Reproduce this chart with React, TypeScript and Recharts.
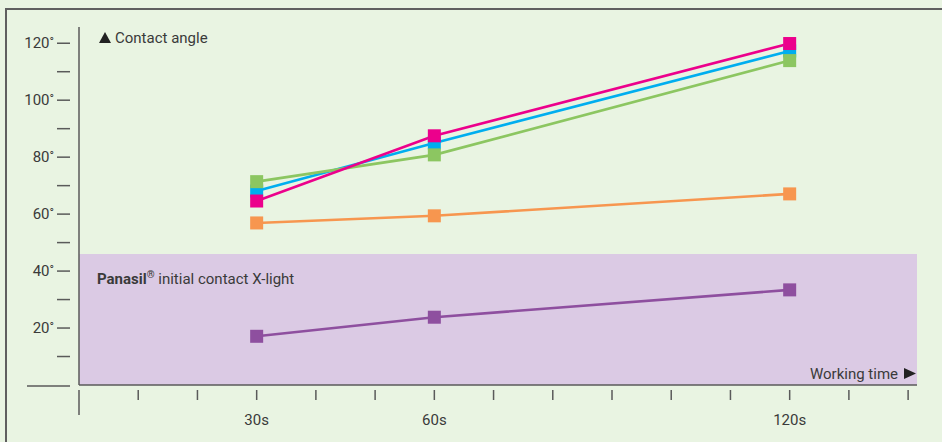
import React from 'react'
import { LineChart, Line, XAxis, YAxis, ReferenceArea } from 'recharts'

// working time in seconds
const times = [30, 60, 120]

// contact angle in degrees, one array per material
const pinkValues = [64.6, 87.5, 119.9]
const blueValues = [68.1, 85.0, 117.3]
const greenValues = [71.4, 80.8, 113.9]
const orangeValues = [56.9, 59.4, 67.1]
const purpleValues = [17.1, 23.8, 33.4]

const xTicks = [0, 10, 20, 30, 40, 50, 60, 70, 80, 90, 100, 110, 120, 130, 140]
const xLabels = [30, 60, 120]
const yTicks = [0, 10, 20, 30, 40, 50, 60, 70, 80, 90, 100, 110, 120]
const yLabels = [20, 40, 60, 80, 100, 120]
const bandTop = 46

const FONT = 'Roboto, "Liberation Sans", sans-serif'
const TEXT = '#3a3a3a'
const AXIS = '#5a5a5a'

const data = times.map((t, i) => ({
  t,
  pink: pinkValues[i],
  blue: blueValues[i],
  green: greenValues[i],
  orange: orangeValues[i],
  purple: purpleValues[i],
}))

const series = [
  { key: 'purple', color: '#8E4F9F' },
  { key: 'orange', color: '#F7964F' },
  { key: 'blue', color: '#00AEEF' },
  { key: 'green', color: '#8CC661' },
  { key: 'pink', color: '#EC008C' },
]

const YTick = (props: any) => {
  const { x, y, payload } = props
  const v = payload.value
  if (v === 0) {
    return <line x1={x - 52} x2={x - 9} y1={y + 1} y2={y + 1} stroke={AXIS} strokeWidth={1.5} />
  }
  return (
    <g>
      <line x1={x - 22} x2={x - 9} y1={y} y2={y} stroke={AXIS} strokeWidth={1.5} />
      {yLabels.includes(v) && (
        <text x={x - 25} y={y + 5} textAnchor="end" fontFamily={FONT} fontSize={15} fill={TEXT}>
          {v}
          <tspan dy={-2} fontSize={12}>°</tspan>
        </text>
      )}
    </g>
  )
}

const XTick = (props: any) => {
  const { x, y, payload } = props
  const v = payload.value
  return (
    <g>
      <line x1={x} x2={x} y1={y + 5} y2={v === 0 ? y + 30 : y + 15} stroke={AXIS} strokeWidth={1.5} />
      {xLabels.includes(v) && (
        <text x={x} y={y + 40} textAnchor="middle" fontFamily={FONT} fontSize={15} fill={TEXT}>
          {v}s
        </text>
      )}
    </g>
  )
}

const ContactAngleLabel = (props: any) => {
  const { x, y, width } = props.viewBox
  const lx = x + width + 20
  const ly = y + 16
  return (
    <g>
      <polygon points={`${lx},${ly} ${lx + 12},${ly} ${lx + 6},${ly - 11}`} fill="#222" />
      <text x={lx + 16} y={ly} fontFamily={FONT} fontSize={15} fill={TEXT}>
        Contact angle
      </text>
    </g>
  )
}

const WorkingTimeLabel = (props: any) => {
  const { x, y, width } = props.viewBox
  const rx = x + width - 1
  const ly = y - 6
  return (
    <g>
      <polygon points={`${rx - 12},${ly} ${rx - 12},${ly - 11} ${rx},${ly - 5.5}`} fill="#222" />
      <text x={rx - 18} y={ly} textAnchor="end" fontFamily={FONT} fontSize={15} fill={TEXT}>
        Working time
      </text>
    </g>
  )
}

const BandLabel = (props: any) => {
  const { x, y } = props.viewBox
  return (
    <text x={x + 18} y={y + 30} fontFamily={FONT} fontSize={15} fill={TEXT}>
      <tspan fontWeight="bold">Panasil</tspan>
      <tspan dy={-6} fontSize={10} fontWeight="bold">®</tspan>
      <tspan dy={6}> initial contact X-light</tspan>
    </text>
  )
}

const squareDot = (color: string) => (p: any) =>
  <rect key={p.index} x={p.cx - 6.5} y={p.cy - 6.5} width={13} height={13} fill={color} />

export default function App() {
  return (
    <div style={{ position: 'absolute', left: 0, top: 0, width: 942, height: 442, background: '#E9F4E2', overflow: 'hidden' }}>
      <div
        style={{
          position: 'absolute',
          left: 5,
          top: 8,
          width: 960,
          height: 460,
          borderTop: '2px solid #5f5f5f',
          borderLeft: '2px solid #5f5f5f',
        }}
      />
      <div style={{ position: 'absolute', left: 0, top: 0 }}>
        <LineChart width={942} height={442} data={data} margin={{ top: 27, right: 25, bottom: 0, left: 0 }}>
          <XAxis
            dataKey="t"
            type="number"
            domain={[0, 141.5]}
            ticks={xTicks}
            interval={0}
            height={57}
            tickSize={0}
            tickMargin={0}
            tickLine={false}
            axisLine={{ stroke: AXIS, strokeWidth: 1.5 }}
            tick={<XTick />}
            label={WorkingTimeLabel}
          />
          <YAxis
            type="number"
            domain={[0, 125.7]}
            ticks={yTicks}
            interval={0}
            width={79}
            tickSize={0}
            tickMargin={0}
            tickLine={false}
            axisLine={{ stroke: AXIS, strokeWidth: 1.5 }}
            tick={<YTick />}
            label={ContactAngleLabel}
          />
          <ReferenceArea y1={0} y2={bandTop} fill="#DBCAE4" fillOpacity={1} stroke="none" label={BandLabel} />
          {series.map((s) => (
            <Line
              key={s.key}
              dataKey={s.key}
              type="linear"
              stroke={s.color}
              strokeWidth={2.6}
              dot={squareDot(s.color)}
              activeDot={false}
              isAnimationActive={false}
            />
          ))}
        </LineChart>
      </div>
    </div>
  )
}
